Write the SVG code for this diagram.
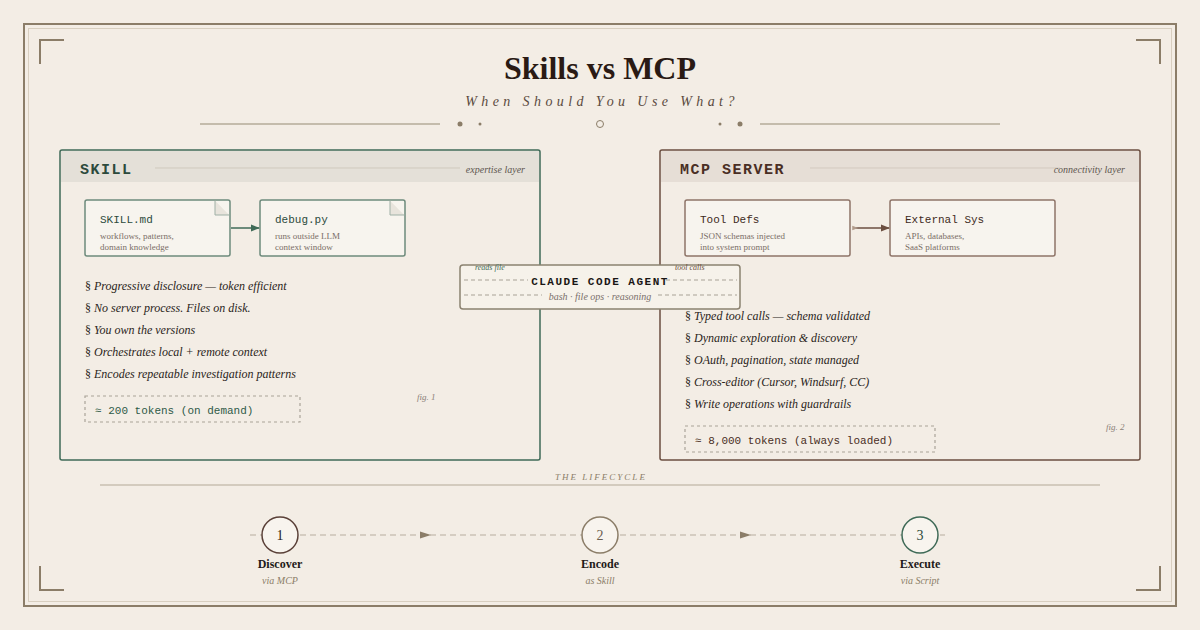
<svg xmlns="http://www.w3.org/2000/svg" width="1200" height="630" viewBox="0 0 1200 630">
<defs>
<style>
.serif{font-family:"Liberation Serif","DejaVu Serif",serif}
.mono{font-family:"Liberation Mono","DejaVu Sans Mono",monospace}
.sans{font-family:"Liberation Sans","DejaVu Sans",sans-serif}
.bullet{font-family:"Liberation Serif",serif;font-size:12px;font-style:italic;fill:#2a2420}
.sub{font-family:"Liberation Serif",serif;font-size:9px;fill:#7a6e66}
.corner{fill:none;stroke:#8b7d68;stroke-width:2}
.card{fill:#f7f4ee;stroke-width:1.5}
</style>
<marker id="arrG" viewBox="0 0 10 10" refX="9" refY="5" markerWidth="6" markerHeight="6" orient="auto"><path d="M0,1 L10,5 L0,9 Z" fill="#3f6a57"/></marker>
<marker id="arrB" viewBox="0 0 10 10" refX="9" refY="5" markerWidth="6" markerHeight="6" orient="auto"><path d="M0,1 L10,5 L0,9 Z" fill="#6b4e40"/></marker>
<marker id="tailB" viewBox="0 0 10 10" refX="1" refY="5" markerWidth="5" markerHeight="5" orient="auto"><path d="M0,2 L8,5 L0,8 Z" fill="#b09a8a"/></marker>
</defs>
<rect width="1200" height="630" fill="#f3ede5"/>
<rect x="24" y="24" width="1152" height="582" fill="none" stroke="#8b7d68" stroke-width="2"/>
<rect x="28.5" y="28.5" width="1143" height="573" fill="none" stroke="#d8cfc0" stroke-width="1"/>
<path class="corner" d="M40,64 V40 H64"/>
<path class="corner" d="M1136,40 H1160 V64"/>
<path class="corner" d="M40,566 V590 H64"/>
<path class="corner" d="M1160,566 V590 H1136"/>

<text x="600" y="79" text-anchor="middle" class="serif" font-size="32" font-weight="bold" fill="#2a1a14">Skills vs MCP</text>
<text x="602" y="106" text-anchor="middle" class="serif" font-size="14" font-style="italic" letter-spacing="4.4" fill="#5a4a40">When Should You Use What?</text>
<g stroke="#b5ab98" stroke-width="1.5">
<line x1="200" y1="124" x2="440" y2="124"/>
<line x1="760" y1="124" x2="1000" y2="124"/>
</g>
<g fill="#8b7d68">
<circle cx="460" cy="124" r="2.5"/><circle cx="480" cy="124" r="1.5"/>
<circle cx="720" cy="124" r="1.5"/><circle cx="740" cy="124" r="2.5"/>
</g>
<circle cx="600" cy="124" r="3.5" fill="none" stroke="#8b7d68" stroke-width="1"/>

<g id="skill-panel">
<rect x="60" y="150" width="480" height="310" rx="2" fill="#f3ede5" stroke="#3f6a57" stroke-width="1.5"/>
<rect x="61" y="151" width="478" height="31" fill="#e4e0d8"/>
<text x="80" y="174" class="mono" font-size="15" font-weight="bold" letter-spacing="1.5" fill="#2c4a3c">SKILL</text>
<line x1="155" y1="168" x2="460" y2="168" stroke="#cfc9bd" stroke-width="1"/>
<text x="525" y="173" text-anchor="end" class="serif" font-size="10" font-style="italic" fill="#5e5650">expertise layer</text>
<text x="85" y="290" class="bullet"><tspan font-style="normal">§ </tspan>Progressive disclosure — token efficient</text>
<text x="85" y="312" class="bullet"><tspan font-style="normal">§ </tspan>No server process. Files on disk.</text>
<text x="85" y="334" class="bullet"><tspan font-style="normal">§ </tspan>You own the versions</text>
<text x="85" y="356" class="bullet"><tspan font-style="normal">§ </tspan>Orchestrates local + remote context</text>
<text x="85" y="378" class="bullet"><tspan font-style="normal">§ </tspan>Encodes repeatable investigation patterns</text>
<rect x="85" y="396" width="215" height="26" fill="none" stroke="#aaa398" stroke-width="1.2" stroke-dasharray="3 3"/>
<text x="95" y="414" class="mono" font-size="11" fill="#2f5a48">≈ 200 tokens (on demand)</text>
<text x="417" y="400" class="serif" font-size="9" font-style="italic" fill="#8a8078">fig. 1</text>
</g>

<g id="skill-md">
<rect x="85" y="200" width="145" height="56" rx="2" class="card" stroke="#6d8a7c"/>
<path d="M215,200.8 V215 H229.2" fill="#e8e4dc" stroke="#9fb0a6" stroke-width="1"/>
<text x="100" y="223" class="mono" font-size="11" fill="#2c4a3c">SKILL.md</text>
<text x="100" y="239" class="sub">workflows, patterns,</text>
<text x="100" y="250" class="sub">domain knowledge</text>
</g>
<g id="debug-py">
<rect x="260" y="200" width="145" height="56" rx="2" class="card" stroke="#6d8a7c"/>
<path d="M390,200.8 V215 H404.2" fill="#e8e4dc" stroke="#9fb0a6" stroke-width="1"/>
<text x="275" y="223" class="mono" font-size="11" fill="#2c4a3c">debug.py</text>
<text x="275" y="239" class="sub">runs outside LLM</text>
<text x="275" y="250" class="sub">context window</text>
</g>

<g id="mcp-panel">
<rect x="660" y="150" width="480" height="310" rx="2" fill="#f3ede5" stroke="#6b4e40" stroke-width="1.5"/>
<rect x="661" y="151" width="478" height="31" fill="#e6ded6"/>
<text x="680" y="174" class="mono" font-size="15" font-weight="bold" letter-spacing="1.5" fill="#4a2e24">MCP SERVER</text>
<line x1="810" y1="168" x2="1060" y2="168" stroke="#d3c9bf" stroke-width="1"/>
<text x="1125" y="173" text-anchor="end" class="serif" font-size="10" font-style="italic" fill="#5e5650">connectivity layer</text>
<text x="685" y="320" class="bullet"><tspan font-style="normal">§ </tspan>Typed tool calls — schema validated</text>
<text x="685" y="342" class="bullet"><tspan font-style="normal">§ </tspan>Dynamic exploration &amp; discovery</text>
<text x="685" y="364" class="bullet"><tspan font-style="normal">§ </tspan>OAuth, pagination, state managed</text>
<text x="685" y="386" class="bullet"><tspan font-style="normal">§ </tspan>Cross-editor (Cursor, Windsurf, CC)</text>
<text x="685" y="408" class="bullet"><tspan font-style="normal">§ </tspan>Write operations with guardrails</text>
<rect x="685" y="426" width="250" height="26" fill="none" stroke="#aaa398" stroke-width="1.2" stroke-dasharray="3 3"/>
<text x="695" y="444" class="mono" font-size="11" fill="#4a2e24">≈ 8,000 tokens (always loaded)</text>
<text x="1106" y="430" class="serif" font-size="9" font-style="italic" fill="#8a8078">fig. 2</text>
</g>

<g id="tool-defs">
<rect x="685" y="200" width="165" height="56" rx="2" class="card" stroke="#8e7468"/>
<text x="700" y="223" class="mono" font-size="11" fill="#3e2a22">Tool Defs</text>
<text x="700" y="239" class="sub">JSON schemas injected</text>
<text x="700" y="250" class="sub">into system prompt</text>
</g>
<g id="external-sys">
<rect x="890" y="200" width="165" height="56" rx="2" class="card" stroke="#8e7468"/>
<text x="905" y="223" class="mono" font-size="11" fill="#3e2a22">External Sys</text>
<text x="905" y="239" class="sub">APIs, databases,</text>
<text x="905" y="250" class="sub">SaaS platforms</text>
</g>

<g id="connectors">
<line x1="231" y1="228" x2="259" y2="228" stroke="#3f6a57" stroke-width="1.5" marker-end="url(#arrG)"/>
<line x1="853" y1="228" x2="889" y2="228" stroke="#6b4e40" stroke-width="1.5" marker-start="url(#tailB)" marker-end="url(#arrB)"/>
</g>

<g id="agent">
<rect x="460" y="265" width="280" height="44" rx="3" fill="#f6f2ea" stroke="#8b8270" stroke-width="1.5"/>
<g stroke="#a8a196" stroke-width="1.2" stroke-dasharray="4 3">
<line x1="464" y1="280" x2="528" y2="280"/>
<line x1="666" y1="280" x2="737" y2="280"/>
<line x1="464" y1="295" x2="542" y2="295"/>
<line x1="658" y1="295" x2="737" y2="295"/>
</g>
<text x="600" y="285" text-anchor="middle" class="mono" font-size="11" font-weight="bold" letter-spacing="1.5" fill="#1a1614">CLAUDE CODE AGENT</text>
<text x="600" y="300" text-anchor="middle" class="serif" font-size="10" font-style="italic" fill="#7a706a">bash · file ops · reasoning</text>
<text x="475" y="270" class="serif" font-size="8" font-style="italic" fill="#3f6a57">reads file</text>
<text x="675" y="270" class="serif" font-size="8" font-style="italic" fill="#6b4e40">tool calls</text>
</g>

<g id="lifecycle">
<text x="601" y="480" text-anchor="middle" class="serif" font-size="9" font-style="italic" letter-spacing="2" fill="#8b7d68">THE LIFECYCLE</text>
<line x1="100" y1="485" x2="1100" y2="485" stroke="#c8bfb0" stroke-width="1.5"/>
<line x1="250" y1="535" x2="945" y2="535" stroke="#b8ae9f" stroke-width="1.2" stroke-dasharray="6 4"/>
<path d="M420,531.5 L431,535 L420,538.5 Z" fill="#8b7d68"/>
<path d="M740,531.5 L751,535 L740,538.5 Z" fill="#8b7d68"/>
</g>
<g id="step1">
<circle cx="280" cy="535" r="18" fill="#f8f4ee" stroke="#5a4038" stroke-width="1.5"/>
<text x="280" y="540" text-anchor="middle" class="serif" font-size="14" fill="#2a1a14">1</text>
<text x="280" y="568" text-anchor="middle" class="serif" font-size="12" font-weight="bold" fill="#1e1a18">Discover</text>
<text x="280" y="584" text-anchor="middle" class="serif" font-size="10" font-style="italic" fill="#8b7d68">via MCP</text>
</g>
<g id="step2">
<circle cx="600" cy="535" r="18" fill="#f8f4ee" stroke="#8b7d68" stroke-width="1.5"/>
<text x="600" y="540" text-anchor="middle" class="serif" font-size="14" fill="#6b5e50">2</text>
<text x="600" y="568" text-anchor="middle" class="serif" font-size="12" font-weight="bold" fill="#1e1a18">Encode</text>
<text x="600" y="584" text-anchor="middle" class="serif" font-size="10" font-style="italic" fill="#8b7d68">as Skill</text>
</g>
<g id="step3">
<circle cx="920" cy="535" r="18" fill="#f8f4ee" stroke="#3f6a57" stroke-width="1.5"/>
<text x="920" y="540" text-anchor="middle" class="serif" font-size="14" fill="#2c4a3c">3</text>
<text x="920" y="568" text-anchor="middle" class="serif" font-size="12" font-weight="bold" fill="#1e1a18">Execute</text>
<text x="920" y="584" text-anchor="middle" class="serif" font-size="10" font-style="italic" fill="#8b7d68">via Script</text>
</g>
</svg>
